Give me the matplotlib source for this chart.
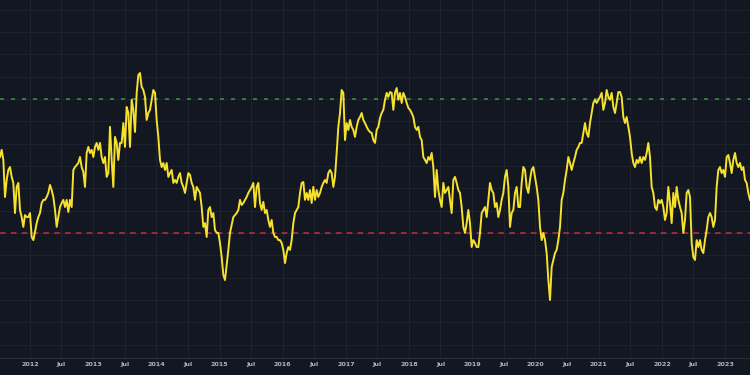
import matplotlib
matplotlib.use("Agg")
import matplotlib.pyplot as plt
import matplotlib.dates as mdates
import numpy as np
import pandas as pd

# indicator readings, evenly spaced in time from start_date to end_date
start_date = "2011-07-12"
end_date = "2023-05-25"
values = [
    54.0, 57.2, 52.7, 36.1, 43.7, 48.2, 49.5, 45.1, 42.4, 28.9,
    40.6, 42.4, 30.3, 27.1, 22.7, 28.0, 27.1, 27.1, 28.9, 18.2,
    16.8, 20.4, 24.4, 27.1, 28.9, 33.4, 34.8, 34.8, 36.1, 37.9,
    41.5, 39.2, 36.1, 30.3, 22.7, 27.1, 31.6, 33.4, 34.8, 31.6,
    34.8, 29.4, 34.8, 31.6, 48.2, 49.5, 50.4, 51.3, 54.0, 49.5,
    47.3, 40.6, 55.8, 58.5, 55.8, 57.2, 54.0, 58.5, 60.3, 57.2,
    60.3, 54.0, 51.3, 54.0, 45.1, 46.8, 67.5, 52.7, 40.6, 63.0,
    60.3, 52.7, 60.3, 60.3, 69.2, 58.5, 76.4, 73.7, 58.5, 79.6,
    75.1, 65.2, 82.7, 90.7, 91.6, 85.4, 84.0, 80.9, 70.6, 73.7,
    75.1, 79.6, 84.0, 82.7, 70.6, 63.0, 52.7, 49.5, 51.3, 48.2,
    51.3, 45.1, 46.8, 48.2, 42.4, 43.7, 42.4, 45.1, 46.8, 42.4,
    40.6, 37.9, 42.4, 46.8, 46.0, 42.4, 40.6, 34.8, 40.6, 39.2,
    37.9, 31.6, 22.7, 24.4, 18.2, 30.3, 31.6, 27.1, 28.9, 21.3,
    20.0, 20.0, 15.5, 9.2, 1.2, -1.1, 5.6, 12.4, 20.0, 23.6,
    27.1, 28.0, 28.9, 30.3, 34.8, 32.5, 33.4, 34.8, 36.1, 37.9, 39.2,
    # 2016 - 2019
    40.6, 42.4, 31.6, 40.6, 42.4, 33.4, 30.3, 33.9, 28.9, 30.3,
    25.8, 22.7, 25.8, 20.0, 18.2, 18.2, 16.8, 16.8, 15.5, 12.4,
    6.5, 11.0, 13.7, 12.4, 16.8, 24.4, 28.9, 30.3, 31.6, 37.9,
    42.4, 42.8, 34.8, 37.9, 34.8, 39.2, 33.4, 40.6, 34.8, 39.2,
    36.1, 37.9, 40.6, 42.4, 43.7, 42.4, 46.8, 48.2, 46.8, 40.6,
    45.1, 55.8, 67.5, 73.7, 84.0, 82.7, 61.6, 69.2, 66.1, 70.6,
    67.5, 66.1, 63.0, 67.5, 70.6, 71.9, 73.7, 70.6, 69.2, 67.5,
    66.1, 65.2, 64.8, 61.6, 60.3, 66.1, 67.5, 71.5, 73.7, 75.1,
    79.6, 82.7, 80.9, 83.1, 82.7, 75.1, 82.7, 84.9, 79.6, 82.7,
    78.2, 82.7, 80.9, 78.2, 76.0, 75.1, 73.7, 71.9, 67.5, 66.1,
    67.5, 63.0, 61.6, 54.0, 52.7, 51.3, 54.0, 52.7, 55.8, 49.5,
    36.1, 48.2, 39.2, 34.8, 31.6, 42.4, 37.9, 39.2, 40.6, 34.8,
    28.9, 43.7, 45.1, 42.4, 39.2, 37.9, 31.6, 22.7, 20.0, 24.4,
    30.3, 24.4, 13.7, 16.8, 15.5, 13.7, 13.7, 20.0, 28.9, 30.3,
    31.6, 27.1, 34.8, 42.4, 39.2, 37.9, 31.6, 33.4, 27.1, 30.3,
    # 2019 - 2023
    34.8, 37.9, 45.1, 48.2, 40.6, 22.7, 28.9, 30.3, 37.9, 40.6,
    31.6, 31.6, 42.4, 49.5, 48.2, 40.6, 37.9, 43.7, 48.2, 49.5,
    45.1, 40.6, 34.8, 22.7, 16.8, 20.0, 16.8, 11.0, -1.1, -10.0,
    4.7, 7.9, 11.0, 12.4, 16.8, 22.7, 34.8, 37.9, 43.7, 48.2,
    54.0, 51.3, 48.2, 51.3, 54.0, 57.2, 58.5, 60.3, 60.3, 64.8,
    69.2, 64.8, 63.0, 69.2, 73.7, 78.2, 79.6, 78.2, 79.6, 80.9,
    82.7, 75.1, 78.2, 84.0, 80.9, 79.6, 82.7, 76.4, 73.7, 78.2,
    83.1, 83.1, 80.9, 71.9, 69.2, 71.9, 67.5, 63.0, 55.8, 51.3,
    49.5, 52.7, 51.3, 54.0, 51.3, 54.0, 52.7, 55.8, 60.3, 54.0,
    40.6, 37.9, 31.6, 30.3, 34.8, 33.4, 34.8, 31.6, 25.8, 28.9,
    40.6, 33.4, 24.4, 37.9, 31.6, 40.6, 34.8, 31.6, 28.9, 20.0,
    25.8, 37.9, 39.2, 36.1, 15.5, 9.2, 7.9, 16.8, 13.7, 16.8,
    12.4, 11.0, 16.8, 21.3, 27.1, 28.9, 27.1, 22.7, 25.8, 40.6,
    48.2, 49.5, 46.8, 48.2, 45.1, 54.0, 54.9, 51.3, 46.8, 52.7,
    55.8, 51.3, 49.5, 51.3, 48.2, 49.5, 43.7, 42.4, 37.9, 34.8,
]
upper_level = 80
lower_level = 20

dates = pd.date_range(start_date, end_date, periods=len(values))

bg = "#131722"
fig = plt.figure(figsize=(7.5, 3.75), dpi=100, facecolor=bg)
ax = fig.add_axes([0, 17 / 375, 1, 358 / 375])
ax.set_facecolor(bg)

ax.plot(dates, values, color="#f5e12e", linewidth=1.4, zorder=3)
ax.axhline(upper_level, color="#4caf50", alpha=0.75, linewidth=1.2,
           linestyle=(0, (2.4, 4.2)), zorder=2)
ax.axhline(lower_level, color="#f23645", alpha=0.7, linewidth=1.2,
           linestyle=(0, (3.4, 3.1)), zorder=2)

ax.set_xlim(dates[0], dates[-1])
ax.set_ylim(-36.0, 124.3)

ax.xaxis.set_major_locator(mdates.MonthLocator(bymonth=[1, 7]))
ax.xaxis.set_major_formatter(
    plt.FuncFormatter(lambda x, pos: mdates.num2date(x).strftime("%Y")
                      if mdates.num2date(x).month == 1 else "Jul"))
ax.yaxis.set_major_locator(plt.MultipleLocator(10))

ax.grid(True, color="#1e222d", linewidth=0.8, zorder=0)
ax.tick_params(axis="x", length=0, pad=3, labelsize=4.6, colors="#b2b5be")
ax.tick_params(axis="y", left=False, labelleft=False)
for lbl in ax.get_xticklabels():
    lbl.set_fontweight("bold")

for side in ["top", "left", "right"]:
    ax.spines[side].set_visible(False)
ax.spines["bottom"].set_color("#2a2e39")
ax.spines["bottom"].set_linewidth(0.8)

fig.savefig("out.png", dpi=100, facecolor=bg)
